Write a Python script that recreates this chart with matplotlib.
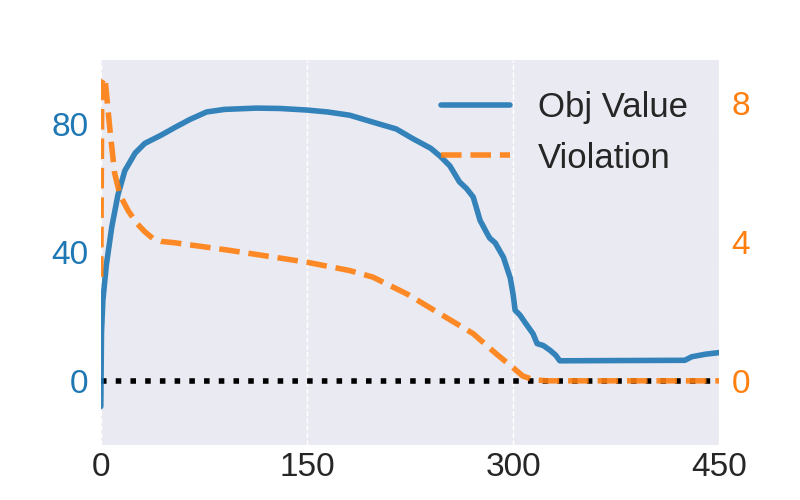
import matplotlib
matplotlib.use('Agg')
import matplotlib.pyplot as plt
import seaborn as sns

# objective value (left axis)
obj_x = [0, 0.5, 1.5, 4, 8, 12.5, 17.5, 25, 32, 44, 54, 65, 77, 90, 113, 130,
         150, 165, 181, 203, 215, 227, 240, 247, 254, 261, 266, 271, 276, 281,
         283, 287, 293, 298, 300, 301.5, 305, 309, 314.5, 317.5, 322, 327, 331,
         334, 425, 430, 440, 450]
obj_y = [-8, 15, 25, 36, 48, 58, 65.5, 71, 74, 76.6, 79, 81.5, 83.8, 84.6, 85,
         84.9, 84.4, 83.8, 82.8, 80, 78.5, 75.5, 72.5, 70, 67, 62, 60, 57.3, 50,
         46, 44.5, 43, 38.5, 32, 27, 22, 20.5, 18, 14.7, 11.6, 11, 9.5, 8,
         6.25, 6.4, 7.5, 8.3, 8.8]

# violation (right axis)
vio_x = [0, 0.7, 3, 6.5, 10, 14, 20, 26, 32, 38, 44, 54, 94, 150, 181, 198,
         223, 247, 271, 288, 300, 307, 315, 325, 450]
vio_y = [3.0, 8.6, 8.75, 7.3, 6.0, 5.35, 4.9, 4.55, 4.3, 4.1, 4.02, 3.98, 3.76,
         3.42, 3.18, 2.99, 2.5, 1.93, 1.36, 0.77, 0.38, 0.14, 0.03, 0.0, 0.0]

x_ticks = [0, 150, 300, 450]
left_ticks = [0, 40, 80]
right_ticks = [0, 4, 8]

sns.set_theme(style='darkgrid')
plt.rcParams['font.family'] = ['Liberation Sans', 'DejaVu Sans']

blue = '#1f77b4'
orange = '#ff7f0e'

fig, ax1 = plt.subplots(figsize=(8, 5), dpi=100)
fig.subplots_adjust(left=0.126, right=0.899, bottom=0.11, top=0.88)
ax2 = ax1.twinx()

ax1.axhline(0, color='black', lw=4, ls=':')
l1, = ax1.plot(obj_x, obj_y, color=blue, alpha=0.9, lw=4, label='Obj Value')
l2, = ax2.plot(vio_x, vio_y, color=orange, alpha=0.9, lw=4, ls='--',
               label='Violation')

ax1.set_xlim(0, 450)
ax1.set_ylim(-20, 100)
ax2.set_ylim(-1.85, 9.25)
ax1.set_xticks(x_ticks)
ax1.set_yticks(left_ticks)
ax2.set_yticks(right_ticks)

ax1.tick_params(axis='x', labelsize=24, colors='#262626', length=0, pad=5)
ax1.tick_params(axis='y', labelsize=24, colors=blue, length=0, pad=9)
ax2.tick_params(axis='y', labelsize=24, colors=orange, length=0, pad=9)

ax1.grid(False)
ax1.grid(axis='x', color='white', ls='--', lw=1)
ax2.grid(False)
for a in (ax1, ax2):
    for s in a.spines.values():
        s.set_visible(False)

ax2.legend(handles=[l1, l2], loc='upper right', fontsize=25, frameon=False)

fig.savefig('out.png')
